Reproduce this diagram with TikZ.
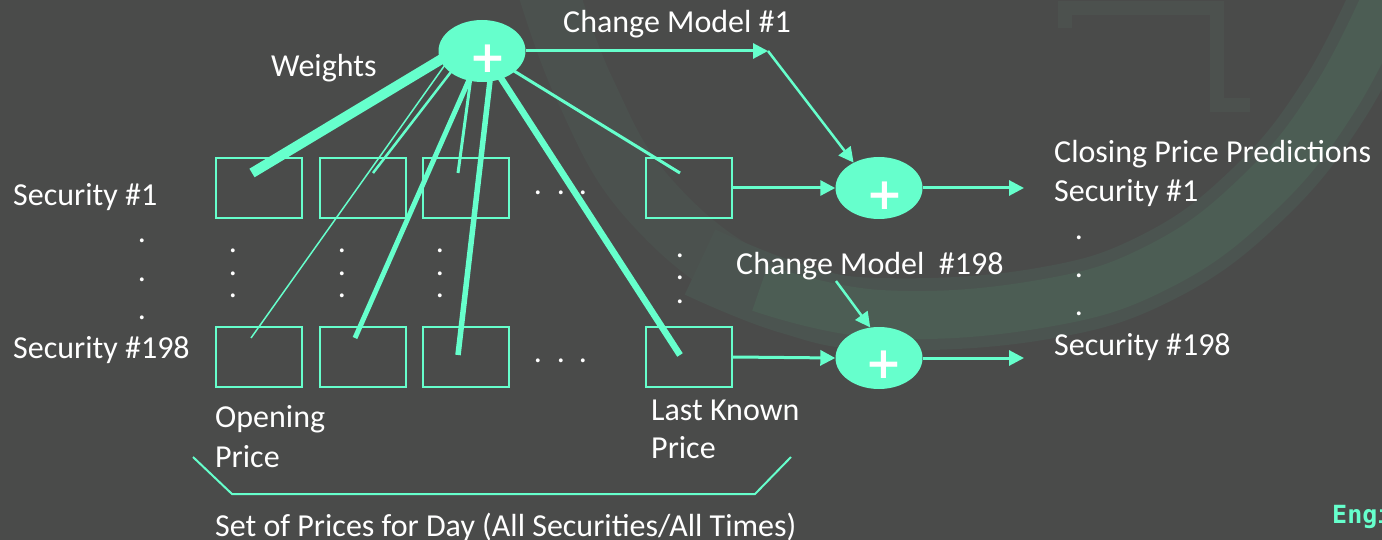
\documentclass[tikz,border=0pt]{standalone}
\usepackage{fontspec}
\setmainfont{Carlito}
\newfontfamily\dejab{DejaVu Sans}
\newfontfamily\monob{DejaVu Sans Mono}
\usetikzlibrary{shapes.geometric,arrows.meta}
\definecolor{bgc}{HTML}{4A4B4A}
\definecolor{aq}{HTML}{66FFCC}
\definecolor{bandc}{HTML}{4C5D54}
\definecolor{bandsoft}{HTML}{4B5450}
\definecolor{bandleft}{HTML}{4B514E}
\definecolor{logoc}{HTML}{4C514E}
\begin{document}
\begin{tikzpicture}[x=1pt,y=-1pt,
  pbox/.style={draw=aq,line width=2pt,minimum width=86pt,minimum height=60pt,inner sep=0pt},
  sumnode/.style={ellipse,fill=aq,minimum width=87pt,minimum height=62pt,inner sep=0pt},
  plussign/.style={text=white,font=\dejab\bfseries\fontsize{44}{44}\selectfont,inner sep=0pt},
  lbl/.style={text=white,font=\fontsize{32}{38}\selectfont,anchor=base west,inner sep=0pt},
  dotn/.style={text=white,font=\fontsize{32}{38}\selectfont,inner sep=0pt},
  wline/.style={draw=aq},
  arr/.style={draw=aq,line width=3pt,-{Triangle[length=15pt,width=15pt]}},
  brk/.style={draw=aq,line width=2pt},
]
% background
\fill[bgc] (0,0) rectangle (1382,540);
\useasboundingbox (0,0) rectangle (1382,540);
% faint decorative ring
\draw[bandleft,line width=60pt] plot[smooth,tension=0.7] coordinates {(545,-20) (585,90) (650,200) (760,285) (880,312)};
\draw[bandsoft,line width=72pt] plot[smooth,tension=0.7] coordinates {(700,262) (790,298) (880,314) (1040,304) (1160,266) (1260,192) (1335,98) (1390,-10)};
\draw[bandc,line width=48pt] plot[smooth,tension=0.7] coordinates {(760,288) (880,314) (1040,304) (1160,266) (1260,192) (1335,98) (1390,-10)};
\draw[logoc,line width=14pt] (1065,28) -- (1065,8) -- (1217,8) -- (1217,105) -- (1250,105);

% boxes
\node[pbox] (b11) at (259,188) {};
\node[pbox] (b12) at (362.5,188) {};
\node[pbox] (b13) at (465.5,188) {};
\node[pbox] (b14) at (689,188) {};
\node[pbox] (b21) at (259,357) {};
\node[pbox] (b22) at (362.5,357) {};
\node[pbox] (b23) at (465.5,357) {};
\node[pbox] (b24) at (689,357) {};

% weight lines
\coordinate (w1s) at (470,42);  \coordinate (w1e) at (252,173);
\coordinate (w2s) at (452,55);  \coordinate (w2e) at (251,338);
\coordinate (w3s) at (464,55);  \coordinate (w3e) at (373,173);
\coordinate (w4s) at (480,55);  \coordinate (w4e) at (355,338);
\coordinate (w5s) at (474,55);  \coordinate (w5e) at (458,173);
\coordinate (w6s) at (493,55);  \coordinate (w6e) at (458,355);
\coordinate (w7s) at (486,55);  \coordinate (w7e) at (680,355);
\coordinate (w8s) at (488,55);  \coordinate (w8e) at (680,173);
\draw[wline,line width=10pt] (w1s) -- (w1e);
\draw[wline,line width=1.5pt] (w2s) -- (w2e);
\draw[wline,line width=2.5pt] (w3s) -- (w3e);
\draw[wline,line width=5pt] (w4s) -- (w4e);
\draw[wline,line width=3pt] (w5s) -- (w5e);
\draw[wline,line width=5.5pt] (w6s) -- (w6e);
\draw[wline,line width=6.5pt] (w7s) -- (w7e);
\draw[wline,line width=3pt] (w8s) -- (w8e);

% summing nodes
\node[sumnode] (e0) at (482,51) {};
\node[plussign] (p0) at (488,59) {+};
\node[sumnode] (e1) at (879,188) {};
\node[plussign] (p1) at (885,196) {+};
\node[sumnode] (e2) at (879,358) {};
\node[plussign] (p2) at (884,365) {+};

% arrows
\coordinate (cm1) at (768,51);
\coordinate (c198) at (836,281);
\coordinate (o1) at (1024,188);
\coordinate (o2) at (1024,358);
\draw[arr] (e0.east) -- (cm1);
\draw[arr,line width=2.5pt] (cm1) -- (e1.135);
\draw[arr] (b14.east) -- (e1.west);
\draw[arr] (e1.east) -- (o1);
\draw[arr,line width=2.5pt] (c198) -- (e2.106);
\draw[arr] (b24.east) -- (e2.west);
\draw[arr] (e2.east) -- (o2);

% bracket
\coordinate (k1) at (193,457);
\coordinate (k2) at (232,494);
\coordinate (k3) at (755,494);
\coordinate (k4) at (791,457);
\draw[brk] (k1) -- (k2) -- (k3) -- (k4);

% labels
\node[lbl] (tsec1) at (13,206) {Security \#1};
\node[lbl] (tsec198) at (13,358) {Security \#198};
\node[lbl] (tw) at (271,77) {Weights};
\node[lbl] (tcm1) at (563,33) {Change Model \#1};
\node[lbl] (tcm198) at (736,275) {Change Model\ \ \#198};
\node[lbl] (top1) at (215,427) {Opening};
\node[lbl] (top2) at (215,467) {Price};
\node[lbl] (tlk1) at (651,420) {Last Known};
\node[lbl] (tlk2) at (651,458) {Price};
\node[lbl] (tset) at (215,536) {Set of Prices for Day (All Securities/All Times)};
\node[lbl] (tcl) at (1054,163) {Closing Price Predictions};
\node[lbl] (tcs1) at (1054,202) {Security \#1};
\node[lbl] (tcs198) at (1054,355) {Security \#198};

% dots
\foreach \y [count=\i] in {241,280,318} {\node[dotn] (dl\i) at (142,\y) {.};}
\foreach \y [count=\i] in {238,276,314} {\node[dotn] (dr\i) at (1079,\y) {.};}
\foreach \x [count=\j] in {233,342,440} {
  \foreach \y [count=\i] in {251,274,296} {\node[dotn] (dc\j\i) at (\x,\y) {.};}
}
\foreach \y [count=\i] in {256,278,302} {\node[dotn] (dc4\i) at (680,\y) {.};}
\foreach \x [count=\i] in {538,561,583} {
  \node[dotn] (dt\i) at (\x,193) {.};
  \node[dotn] (db\i) at (\x,361) {.};
}

% corner text
\node[text=aq,font=\monob\bfseries\fontsize{25}{25}\selectfont,anchor=base west,inner sep=0pt] (eng) at (1332,523) {Engi};
\end{tikzpicture}
\end{document}
